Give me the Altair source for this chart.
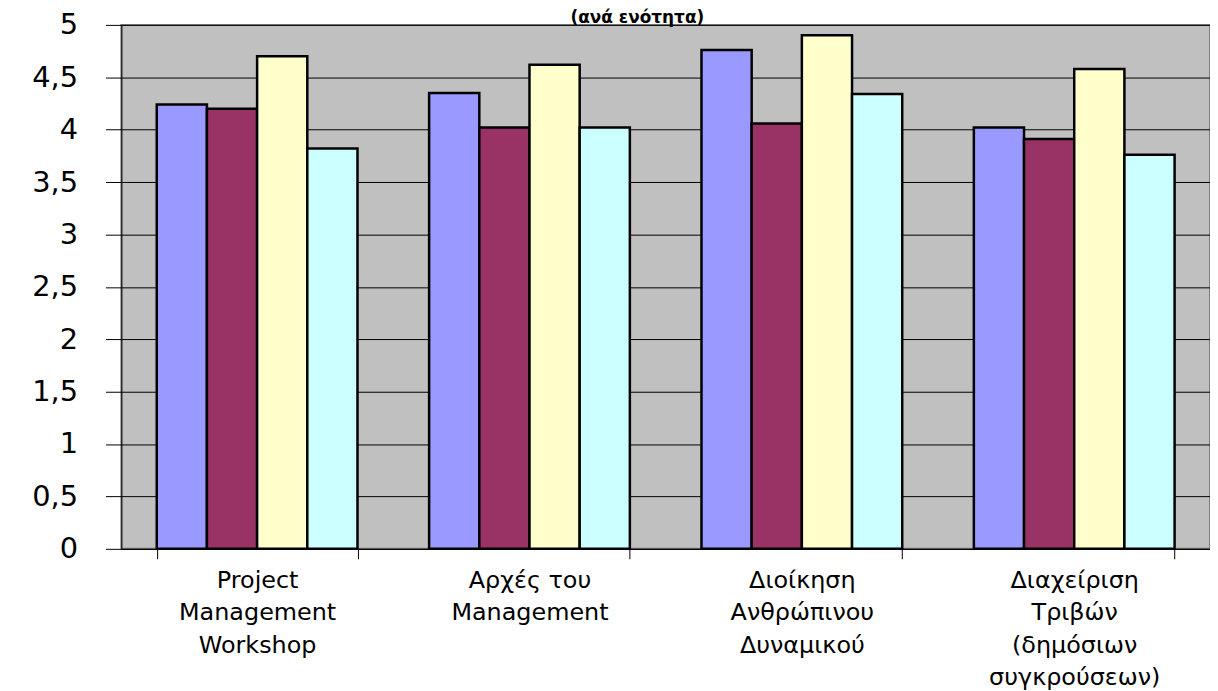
import altair as alt
import pandas as pd

categories = [
    "Project|Management|Workshop",
    "Αρχές του|Management",
    "Διοίκηση|Ανθρώπινου|Δυναμικού",
    "Διαχείριση|Τριβών|(δημόσιων|συγκρούσεων)",
]
series = ["Σειρά 1", "Σειρά 2", "Σειρά 3", "Σειρά 4"]
series_1 = [4.24, 4.35, 4.76, 4.02]
series_2 = [4.20, 4.02, 4.06, 3.91]
series_3 = [4.70, 4.62, 4.90, 4.58]
series_4 = [3.82, 4.02, 4.34, 3.76]
colors = ["#9999FF", "#993366", "#FFFFCC", "#CCFFFF"]
y_ticks = [0, 0.5, 1, 1.5, 2, 2.5, 3, 3.5, 4, 4.5, 5]
title_text = "(ανά ενότητα)"

rows = []
for s, vals in zip(series, [series_1, series_2, series_3, series_4]):
    for c, v in zip(categories, vals):
        rows.append({"category": c, "series": s, "value": v})
df = pd.DataFrame(rows)

FONT = "DejaVu Sans"

bars = alt.Chart(df).mark_bar(stroke="black", strokeWidth=2.5).encode(
    x=alt.X(
        "category:N",
        sort=categories,
        scale=alt.Scale(paddingInner=0.263, paddingOuter=0.13),
        axis=alt.Axis(
            title=None,
            labelAngle=0,
            labelExpr="split(datum.label, '|')",
            labelFont=FONT,
            labelFontSize=24,
            labelLineHeight=32.5,
            labelColor="black",
            labelPadding=10,
            labelBaseline="top",
            tickColor="black",
            tickSize=10,
            tickBand="extent",
            domainColor="black",
            domainWidth=1,
            grid=False,
        ),
    ),
    xOffset=alt.XOffset("series:N", sort=series, scale=alt.Scale(paddingInner=0, paddingOuter=0)),
    y=alt.Y(
        "value:Q",
        scale=alt.Scale(domain=[0, 5], nice=False),
        axis=alt.Axis(
            title=None,
            values=y_ticks,
            labelExpr="replace(format(datum.value, '~g'), '.', ',')",
            labelFont=FONT,
            labelFontSize=29,
            labelColor="black",
            labelPadding=28,
            tickColor="black",
            tickSize=16,
            domainColor="black",
            domainWidth=1,
            grid=True,
            gridColor="black",
            gridWidth=1,
            gridOpacity=1,
        ),
    ),
    color=alt.Color("series:N", scale=alt.Scale(domain=series, range=colors), legend=None),
)

title = alt.Chart(pd.DataFrame({"t": [title_text]})).mark_text(
    font=FONT, fontWeight="bold", fontSize=17, align="center", baseline="alphabetic", color="black"
).encode(x=alt.value(519), y=alt.value(-2), text="t:N")

chart = alt.layer(bars, title).properties(
    width=1095,
    height=527,
    autosize=alt.AutoSizeParams(type="none"),
    padding={"left": 114, "top": 15, "right": 0, "bottom": 140},
).configure_view(fill="#C0C0C0", stroke="#808080", strokeWidth=2)

chart.save("out.html", embed_options={"renderer": "svg", "actions": False})
